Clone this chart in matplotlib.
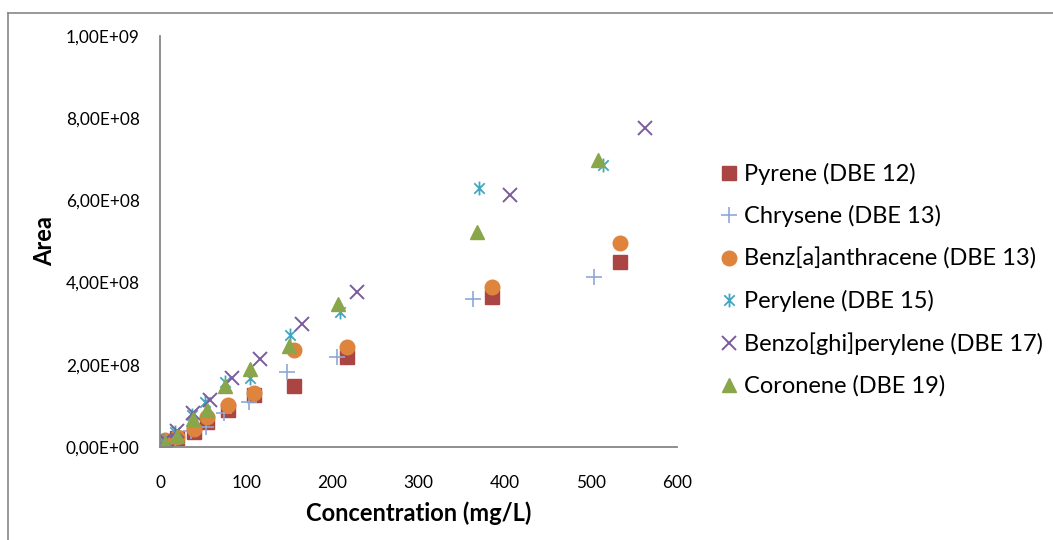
import matplotlib
matplotlib.use("Agg")
import matplotlib.pyplot as plt
from matplotlib.path import Path
from matplotlib.lines import Line2D
from matplotlib.ticker import FuncFormatter

# ---- data ----
pyrene_x = [5.8, 19.4, 39.8, 54, 78.5, 109, 155.8, 216.5, 385, 533.6]
pyrene_y = [0.10e8, 0.21e8, 0.37e8, 0.62e8, 0.90e8, 1.27e8, 1.48e8, 2.20e8, 3.66e8, 4.49e8]

chrysene_x = [5.0, 17.0, 36.0, 53, 74, 103, 147, 205, 363.5, 503.8]
chrysene_y = [0.05e8, 0.20e8, 0.40e8, 0.49e8, 0.82e8, 1.10e8, 1.83e8, 2.20e8, 3.60e8, 4.14e8]

benz_x = [5.8, 19.4, 40, 55, 78.5, 109.4, 155.8, 216.5, 384.8, 533.6]
benz_y = [0.17e8, 0.25e8, 0.45e8, 0.72e8, 1.02e8, 1.32e8, 2.36e8, 2.43e8, 3.89e8, 4.96e8]

perylene_x = [3.5, 17.4, 36.8, 52.2, 75.4, 104.4, 150.8, 208.8, 370.5, 514]
perylene_y = [0.17e8, 0.37e8, 0.78e8, 1.10e8, 1.59e8, 1.67e8, 2.72e8, 3.29e8, 6.29e8, 6.86e8]

benzoghi_x = [5.8, 19.4, 38.7, 58, 83.2, 116, 165, 228.2, 406, 562.6]
benzoghi_y = [0.17e8, 0.39e8, 0.83e8, 1.14e8, 1.69e8, 2.14e8, 3.00e8, 3.78e8, 6.13e8, 7.75e8]

coronene_x = [5.8, 19.4, 38.7, 54.2, 75.4, 104.4, 149.7, 206.9, 367.4, 508.5]
coronene_y = [0.10e8, 0.27e8, 0.67e8, 0.90e8, 1.48e8, 1.89e8, 2.46e8, 3.48e8, 5.24e8, 6.98e8]

labels = ["Pyrene (DBE 12)", "Chrysene (DBE 13)", "Benz[a]anthracene (DBE 13)",
          "Perylene (DBE 15)", "Benzo[ghi]perylene (DBE 17)", "Coronene (DBE 19)"]

x_ticks = [0, 100, 200, 300, 400, 500, 600]
y_ticks = [0, 2e8, 4e8, 6e8, 8e8, 1e9]

# ---- style ----
plt.rcParams['font.family'] = ['Lato', 'DejaVu Sans']

star = Path([(0, -1), (0, 1), (-0.75, -0.75), (0.75, 0.75), (-0.75, 0.75), (0.75, -0.75)],
            [Path.MOVETO, Path.LINETO, Path.MOVETO, Path.LINETO, Path.MOVETO, Path.LINETO])

fig = plt.figure(figsize=(10.53, 5.40), dpi=100)
ax = fig.add_axes([160 / 1053, 93 / 540, 517 / 1053, 411 / 540])

series = [
    (pyrene_x, pyrene_y, dict(marker='s', ms=10, mfc='#AA4543', mec='#AA4543')),
    (chrysene_x, chrysene_y, dict(marker='+', ms=12, mew=1.2, mec='#8EA8D6')),
    (benz_x, benz_y, dict(marker='o', ms=10.5, mfc='#DE843C', mec='#DE843C')),
    (perylene_x, perylene_y, dict(marker=star, ms=10, mew=1.3, mec='#45A5C0', mfc='none')),
    (benzoghi_x, benzoghi_y, dict(marker='x', ms=10, mew=1.4, mec='#7A5C9C')),
    (coronene_x, coronene_y, dict(marker='^', ms=10.5, mfc='#8AA64A', mec='#8AA64A')),
]
handles = []
for (xs, ys, st), lab in zip(series, labels):
    h, = ax.plot(xs, ys, linestyle='none', label=lab, **st)
    handles.append(h)

ax.set_xlim(0, 600)
ax.set_ylim(0, 1e9)
ax.set_xticks(x_ticks)
ax.set_yticks(y_ticks)
ax.yaxis.set_major_formatter(FuncFormatter(
    lambda v, p: ("%.2E" % v).replace('.', ',')))
ax.tick_params(axis='both', length=0, labelsize=12.4, colors='black')
ax.tick_params(axis='y', pad=14.5)
ax.tick_params(axis='x', pad=20)
for s in ['top', 'right']:
    ax.spines[s].set_visible(False)
for s in ['left', 'bottom']:
    ax.spines[s].set_color('#868686')
    ax.spines[s].set_linewidth(1.3)

ax.set_xlabel("Concentration (mg/L)", fontsize=17, fontweight='bold', labelpad=8)
ax.set_ylabel("Area", fontsize=17, fontweight='bold', labelpad=7)

fig.legend(handles=handles, loc='upper left', bbox_to_anchor=(720 / 1053, 1 - 163 / 540),
           frameon=False, fontsize=17, labelspacing=0.86, handlelength=0.8,
           handletextpad=0.23, borderpad=0, borderaxespad=0)

# outer chart border (top and left visible)
fig.add_artist(Line2D([8 / 1053, 1.0], [1 - 13 / 540, 1 - 13 / 540], color='#868686', lw=1.2))
fig.add_artist(Line2D([8 / 1053, 8 / 1053], [0, 1 - 13 / 540], color='#868686', lw=1.2))

fig.savefig("out.png", dpi=100)
